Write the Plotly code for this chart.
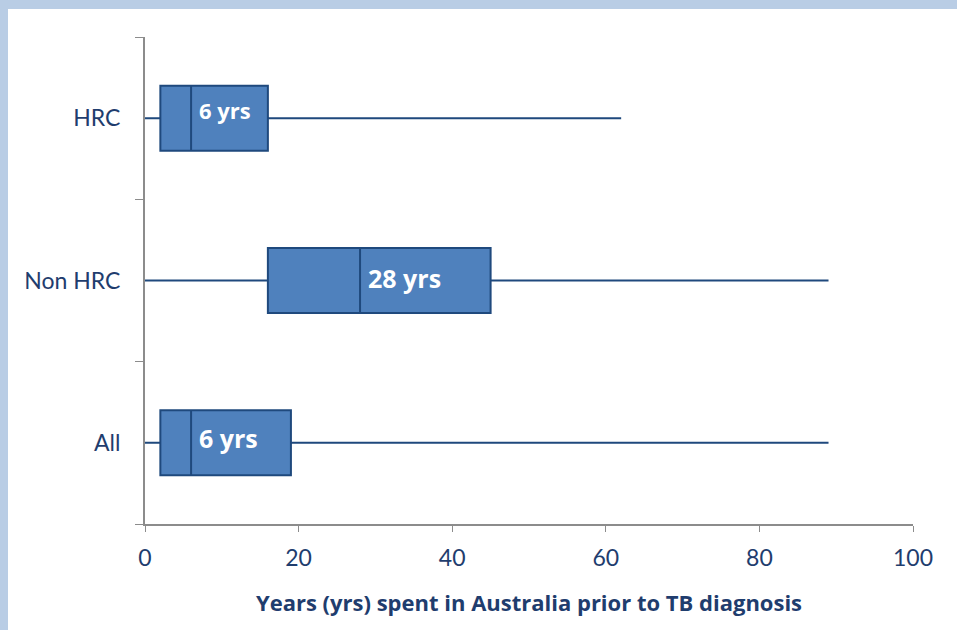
import plotly.graph_objects as go

categories = ["HRC", "Non HRC", "All"]
lower_fence = [0, 0, 0]
q1_vals = [2, 16, 2]
median_vals = [6, 28, 6]
q3_vals = [16, 45, 19]
upper_fence = [62, 89, 89]
median_labels = ["6 yrs", "28 yrs", "6 yrs"]
label_sizes = [22, 25, 25]
label_yshift = [8, 3, 5]
x_ticks = [0, 20, 40, 60, 80, 100]

NAVY = "#1f3d6e"
BOX_FILL = "#4f81bd"
BOX_LINE = "#1f497d"
GRAY = "#8c8c8c"

fig = go.Figure()
fig.add_trace(go.Box(
    y=categories,
    lowerfence=lower_fence,
    q1=q1_vals,
    median=median_vals,
    q3=q3_vals,
    upperfence=upper_fence,
    orientation="h",
    fillcolor=BOX_FILL,
    line=dict(color=BOX_LINE, width=2),
    whiskerwidth=0,
    width=0.4,
    boxpoints=False,
    hoverinfo="skip",
    showlegend=False,
))

for cat, med, lab, sz, ys in zip(categories, median_vals, median_labels, label_sizes, label_yshift):
    fig.add_annotation(
        x=med, y=cat, xref="x", yref="y",
        text="<b>" + lab + "</b>",
        showarrow=False, xanchor="left", xshift=6, yshift=ys,
        font=dict(family="Open Sans, Lato, sans-serif", size=sz, color="white"),
    )

L, R, T, B = 145, 44, 37, 106
W, H = 957 - L - R, 630 - T - B

# white content panel over light-blue frame
fig.add_shape(
    type="rect", xref="paper", yref="paper", layer="below",
    x0=(8 - L) / W, x1=(957 + 5 - L) / W,
    y0=-(B + 5) / H, y1=(630 - B - 9) / H,
    fillcolor="white", line=dict(width=0),
)

fig.update_layout(
    width=957, height=630,
    margin=dict(l=L, r=R, t=T, b=B),
    paper_bgcolor="#b9cde5",
    plot_bgcolor="rgba(0,0,0,0)",
    font=dict(family="Lato, sans-serif", color=NAVY),
    xaxis=dict(
        range=[0, 100], tickvals=x_ticks,
        showgrid=False, zeroline=False,
        showline=True, linecolor=GRAY, linewidth=2,
        ticks="outside", ticklen=6, tickcolor=GRAY, tickwidth=1,
        ticklabelstandoff=6,
        tickfont=dict(size=23, color=NAVY, family="Lato, sans-serif"),
        title=dict(text="<b>Years (yrs) spent in Australia prior to TB diagnosis</b>",
                   font=dict(size=22, color=NAVY, family="Open Sans, sans-serif"),
                   standoff=26),
    ),
    yaxis=dict(
        type="category", categoryorder="array",
        categoryarray=list(reversed(categories)),
        range=[-0.5, 2.5],
        showgrid=False, zeroline=False,
        showline=True, linecolor=GRAY, linewidth=2,
        ticks="outside", tickson="boundaries", ticklen=8, tickcolor=GRAY, tickwidth=1,
        tickfont=dict(size=23, color=NAVY, family="Lato, sans-serif"),
        ticklabelstandoff=18,
    ),
)

fig.write_html("out.html", config={"displayModeBar": False},
               post_script="document.body.style.margin='0px';")
